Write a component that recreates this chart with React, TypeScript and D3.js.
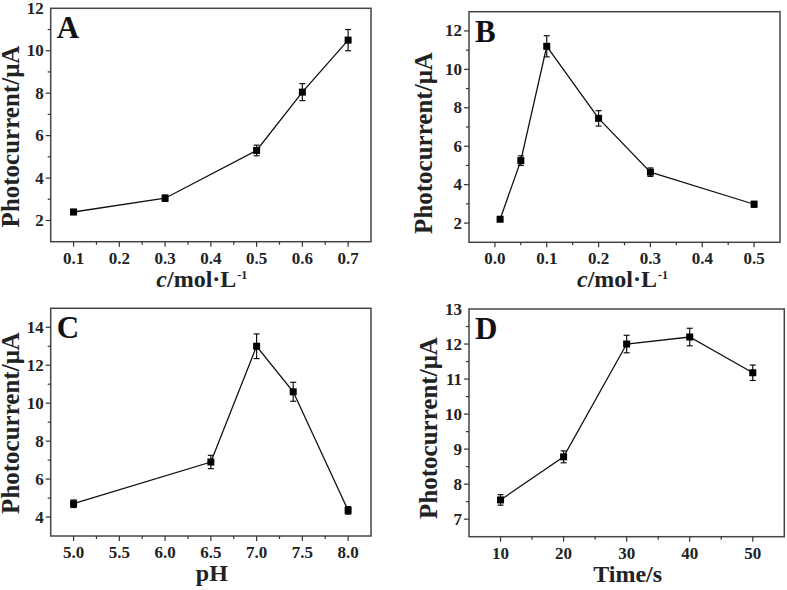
import React from "react";
import * as d3 from "d3";

const aX = [0.1, 0.3, 0.5, 0.6, 0.7];
const aY = [2.4, 3.05, 5.3, 8.05, 10.5];
const aErr = [0.12, 0.15, 0.25, 0.4, 0.5];

const bX = [0.01, 0.05, 0.1, 0.2, 0.3, 0.5];
const bY = [2.2, 5.25, 11.2, 7.45, 4.65, 2.98];
const bErr = [0.1, 0.25, 0.55, 0.4, 0.22, 0.15];

const cX = [5.0, 6.5, 7.0, 7.4, 8.0];
const cY = [4.7, 6.9, 13.0, 10.6, 4.35];
const cErr = [0.2, 0.35, 0.65, 0.5, 0.2];

const dX = [10, 20, 30, 40, 50];
const dY = [7.55, 8.78, 12.0, 12.2, 11.18];
const dErr = [0.15, 0.17, 0.25, 0.25, 0.22];

const aXTicks = [0.1, 0.2, 0.3, 0.4, 0.5, 0.6, 0.7];
const bXTicks = [0.0, 0.1, 0.2, 0.3, 0.4, 0.5];
const cXTicks = [5.0, 5.5, 6.0, 6.5, 7.0, 7.5, 8.0];
const dXTicks = [10, 20, 30, 40, 50];
const aYTicks = [2, 4, 6, 8, 10, 12];
const bYTicks = [2, 4, 6, 8, 10, 12];
const cYTicks = [4, 6, 8, 10, 12, 14];
const dYTicks = [7, 8, 9, 10, 11, 12, 13];

const FONT = "Liberation Serif";

type PanelProps = {
  letter: string;
  left: number; right: number; top: number; bottom: number;
  xDomain: [number, number]; yDomain: [number, number];
  xs: number[]; ys: number[]; errs: number[];
  xTicks: number[]; xMinorStep: number; xFmt: (v: number) => string;
  yTicks: number[]; yMinorStep: number;
  xTitle: React.ReactNode;
  xTitleShift: number;
  yTitleX: number;
  yTitleY: number;
};

function Panel(p: PanelProps) {
  const x = d3.scaleLinear().domain(p.xDomain).range([p.left, p.right]);
  const y = d3.scaleLinear().domain(p.yDomain).range([p.bottom, p.top]);
  const xMinor = d3.range(Math.ceil((p.xDomain[0]) / p.xMinorStep - 1e-9) * p.xMinorStep, p.xDomain[1] + 1e-9, p.xMinorStep)
    .filter(v => v > p.xDomain[0] + 1e-9 && v < p.xDomain[1] - 1e-9);
  const yMinor = d3.range(Math.ceil((p.yDomain[0]) / p.yMinorStep - 1e-9) * p.yMinorStep, p.yDomain[1] + 1e-9, p.yMinorStep)
    .filter(v => v > p.yDomain[0] + 1e-9 && v < p.yDomain[1] - 1e-9);
  const isMajorX = (v: number) => p.xTicks.some(t => Math.abs(t - v) < 1e-6);
  const isMajorY = (v: number) => p.yTicks.some(t => Math.abs(t - v) < 1e-6);
  const line = d3.line<number>().x((_, i) => x(p.xs[i])).y(d => y(d));
  const midX = (p.left + p.right) / 2;
  const sq = 7;
  const ts = { fontFamily: FONT, fontWeight: 700 } as React.CSSProperties;
  return (
    <g>
      <rect x={p.left} y={p.top} width={p.right - p.left} height={p.bottom - p.top} fill="none" stroke="#444" strokeWidth={1.5} />
      {xMinor.map((v, i) => (
        <line key={"xm" + i} x1={x(v)} x2={x(v)} y1={p.bottom} y2={p.bottom + (isMajorX(v) ? 5 : 3)} stroke="#333" strokeWidth={1.2} />
      ))}
      {yMinor.map((v, i) => (
        <line key={"ym" + i} x1={p.left} x2={p.left - (isMajorY(v) ? 5 : 3)} y1={y(v)} y2={y(v)} stroke="#333" strokeWidth={1.2} />
      ))}
      {p.xTicks.map((v, i) => (
        <text key={"xt" + i} x={x(v)} y={p.bottom + 22} textAnchor="middle" style={{ ...ts, fontSize: 17 }} fill="#222">{p.xFmt(v)}</text>
      ))}
      {p.yTicks.map((v, i) => (
        <text key={"yt" + i} x={p.left - 7} y={y(v) + 5.5} textAnchor="end" style={{ ...ts, fontSize: 17 }} fill="#222">{v}</text>
      ))}
      <path d={line(p.ys) || ""} fill="none" stroke="#111" strokeWidth={1.3} />
      {p.ys.map((v, i) => {
        const cx = x(p.xs[i]);
        const y1 = y(v + p.errs[i]);
        const y2 = y(v - p.errs[i]);
        return (
          <g key={"pt" + i}>
            <line x1={cx} x2={cx} y1={y1} y2={y2} stroke="#111" strokeWidth={1.2} />
            <line x1={cx - 3} x2={cx + 3} y1={y1} y2={y1} stroke="#111" strokeWidth={1.2} />
            <line x1={cx - 3} x2={cx + 3} y1={y2} y2={y2} stroke="#111" strokeWidth={1.2} />
            <rect x={cx - sq / 2} y={y(v) - sq / 2} width={sq} height={sq} fill="#000" />
          </g>
        );
      })}
      <text x={p.left + 6} y={p.top + 30} style={{ ...ts, fontSize: 31 }} fill="#111">{p.letter}</text>
      <text x={midX + p.xTitleShift} y={p.bottom + 45} textAnchor="middle" style={{ ...ts, fontSize: 24 }} fill="#222">{p.xTitle}</text>
      <text transform={`translate(${p.yTitleX},${p.yTitleY}) rotate(-90)`} textAnchor="middle" style={{ ...ts, fontSize: 25 }} fill="#222">Photocurrent/μA</text>
    </g>
  );
}

const concTitle = (
  <>
    <tspan fontStyle="italic">c</tspan>
    <tspan>/mol·L</tspan>
    <tspan fontSize={12} dx={1} dy={-8}>-1</tspan>
  </>
);

export default function App() {
  return (
    <svg width={787} height={590} style={{ position: "absolute", left: 0, top: 0, background: "#fff" }}>
      <Panel letter="A" left={50.7} right={371} top={8.3} bottom={241.7}
        xDomain={[0.05, 0.75]} yDomain={[1, 12]}
        xs={aX} ys={aY} errs={aErr}
        xTicks={aXTicks} xMinorStep={0.05} xFmt={v => v.toFixed(1)}
        yTicks={aYTicks} yMinorStep={1}
        xTitle={concTitle} xTitleShift={-9} yTitleX={18.5} yTitleY={136.5} />
      <Panel letter="B" left={469} right={780} top={11.7} bottom={242.3}
        xDomain={[-0.05, 0.55]} yDomain={[1, 13]}
        xs={bX} ys={bY} errs={bErr}
        xTicks={bXTicks} xMinorStep={0.05} xFmt={v => v.toFixed(1)}
        yTicks={bYTicks} yMinorStep={1}
        xTitle={concTitle} xTitleShift={-2} yTitleX={432} yTitleY={143} />
      <Panel letter="C" left={50.7} right={371} top={308.3} bottom={536}
        xDomain={[4.75, 8.25]} yDomain={[3, 15]}
        xs={cX} ys={cY} errs={cErr}
        xTicks={cXTicks} xMinorStep={0.25} xFmt={v => v.toFixed(1)}
        yTicks={cYTicks} yMinorStep={1}
        xTitle={"pH"} xTitleShift={1} yTitleX={18.5} yTitleY={423} />
      <Panel letter="D" left={469} right={784.3} top={309} bottom={536.7}
        xDomain={[5, 55]} yDomain={[6.5, 13]}
        xs={dX} ys={dY} errs={dErr}
        xTicks={dXTicks} xMinorStep={5} xFmt={v => String(v)}
        yTicks={dYTicks} yMinorStep={0.5}
        xTitle={"Time/s"} xTitleShift={1} yTitleX={437} yTitleY={428} />
    </svg>
  );
}
